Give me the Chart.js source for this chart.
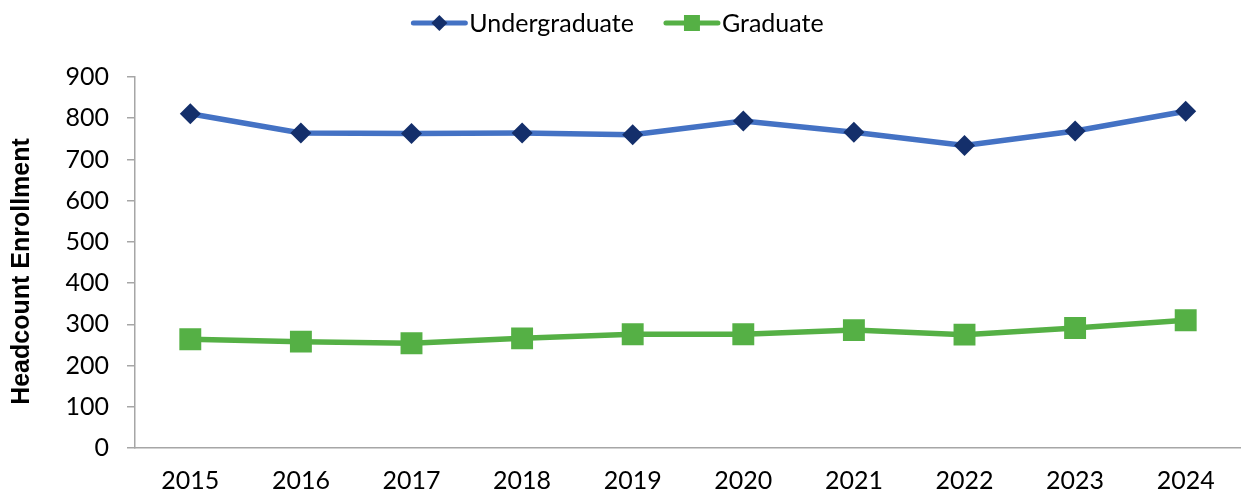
<!DOCTYPE html>
<html>
<head>
<meta charset="utf-8">
<script src="https://cdn.jsdelivr.net/npm/chart.js@4/dist/chart.umd.min.js"></script>
<style>
  html, body { margin: 0; padding: 0; background: #ffffff; }
  #wrap { width: 1241px; height: 496px; position: relative; }
</style>
</head>
<body>
<div id="wrap"><canvas id="enrollChart"></canvas></div>
<script>
// Headcount by fall term
const years = ['2015', '2016', '2017', '2018', '2019', '2020', '2021', '2022', '2023', '2024'];
const undergraduate = [811, 764, 763, 764, 760, 793, 766, 734, 769, 817];
const graduate = [264, 258, 254, 266, 276, 276, 286, 275, 291, 310];
const yTicks = [0, 100, 200, 300, 400, 500, 600, 700, 800, 900];
const yTitle = 'Headcount Enrollment';

const BLUE = '#4472c4';
const NAVY = '#142f6b';
const GREEN = '#55b045';
const AXIS_GREY = '#a6a6a6';
const FONT = 'Lato, "Noto Sans", sans-serif';

// Legend drawn by hand so each entry shows the line with its marker on top
const lineLegend = {
    id: 'lineLegend',
    afterDraw(chart) {
        const ctx = chart.ctx;
        const y = 23;
        const lineLen = 52;
        const textGap = 4;
        const itemGap = 32;
        ctx.save();
        ctx.font = '25px ' + FONT;
        const items = chart.data.datasets.map(ds => ({
            ds,
            w: lineLen + textGap + ctx.measureText(ds.label).width
        }));
        const total = items.reduce((s, it) => s + it.w, 0) + itemGap * (items.length - 1);
        let x = (chart.width - total) / 2 - 2;
        items.forEach(it => {
            const ds = it.ds;
            ctx.strokeStyle = ds.borderColor;
            ctx.lineWidth = 5;
            ctx.lineCap = 'round';
            ctx.beginPath();
            ctx.moveTo(x, y);
            ctx.lineTo(x + lineLen, y);
            ctx.stroke();
            ctx.fillStyle = ds.pointBackgroundColor;
            Chart.helpers.drawPoint(ctx, {
                pointStyle: ds.pointStyle,
                rotation: 0,
                radius: ds.legendRadius,
                borderWidth: 0
            }, x + lineLen / 2, y);
            ctx.fillStyle = '#000000';
            ctx.textBaseline = 'middle';
            ctx.textAlign = 'left';
            ctx.fillText(ds.label, x + lineLen + textGap, y + 1);
            x += it.w + itemGap;
        });

        // vertical axis title, sitting a little below the middle of the axis
        const area = chart.chartArea;
        ctx.translate(22, (area.top + area.bottom) / 2 + 9);
        ctx.rotate(-Math.PI / 2);
        ctx.font = 'bold 25px "Liberation Sans", Arial, sans-serif';
        ctx.textAlign = 'center';
        ctx.fillText(yTitle, 0, 0);
        ctx.restore();
    }
};

const chart = new Chart(document.getElementById('enrollChart'), {
    type: 'line',
    data: {
        labels: years,
        datasets: [{
            label: 'Undergraduate',
            data: undergraduate,
            borderColor: BLUE,
            borderWidth: 5.5,
            pointStyle: 'rectRot',
            pointRadius: 10.5,
            pointHoverRadius: 10.5,
            pointBackgroundColor: NAVY,
            pointBorderColor: NAVY,
            pointBorderWidth: 0,
            legendRadius: 8,
            tension: 0
        }, {
            label: 'Graduate',
            data: graduate,
            borderColor: GREEN,
            borderWidth: 5.5,
            pointStyle: 'rect',
            pointRadius: 15.5,
            pointHoverRadius: 15.5,
            pointBackgroundColor: GREEN,
            pointBorderColor: GREEN,
            pointBorderWidth: 0,
            legendRadius: 11.3,
            tension: 0
        }]
    },
    options: {
        responsive: true,
        maintainAspectRatio: false,
        animation: false,
        layout: {
            autoPadding: false,
            padding: { top: 77, right: 0, bottom: 0, left: 0 }
        },
        plugins: {
            legend: { display: false },
            tooltip: { enabled: false }
        },
        scales: {
            x: {
                offset: true,
                grid: {
                    display: true,
                    drawOnChartArea: false,
                    drawTicks: false
                },
                border: { display: true, color: AXIS_GREY, width: 1.5 },
                ticks: {
                    color: '#000000',
                    font: { family: FONT, size: 25 },
                    padding: 18,
                    maxRotation: 0,
                    autoSkip: false
                },
                afterFit(scale) { scale.height = 48; }
            },
            y: {
                min: 0,
                max: 900,
                afterBuildTicks(scale) {
                    scale.ticks = yTicks.map(v => ({ value: v }));
                },
                grid: {
                    display: true,
                    drawOnChartArea: false,
                    drawTicks: true,
                    tickLength: 8,
                    color: AXIS_GREY,
                    lineWidth: 1.5
                },
                border: { display: true, color: AXIS_GREY, width: 1.5 },
                ticks: {
                    color: '#000000',
                    font: { family: FONT, size: 25 },
                    padding: 18
                },
                afterFit(scale) { scale.width = 135; }
            }
        }
    },
    plugins: [lineLegend]
});
</script>
</body>
</html>
